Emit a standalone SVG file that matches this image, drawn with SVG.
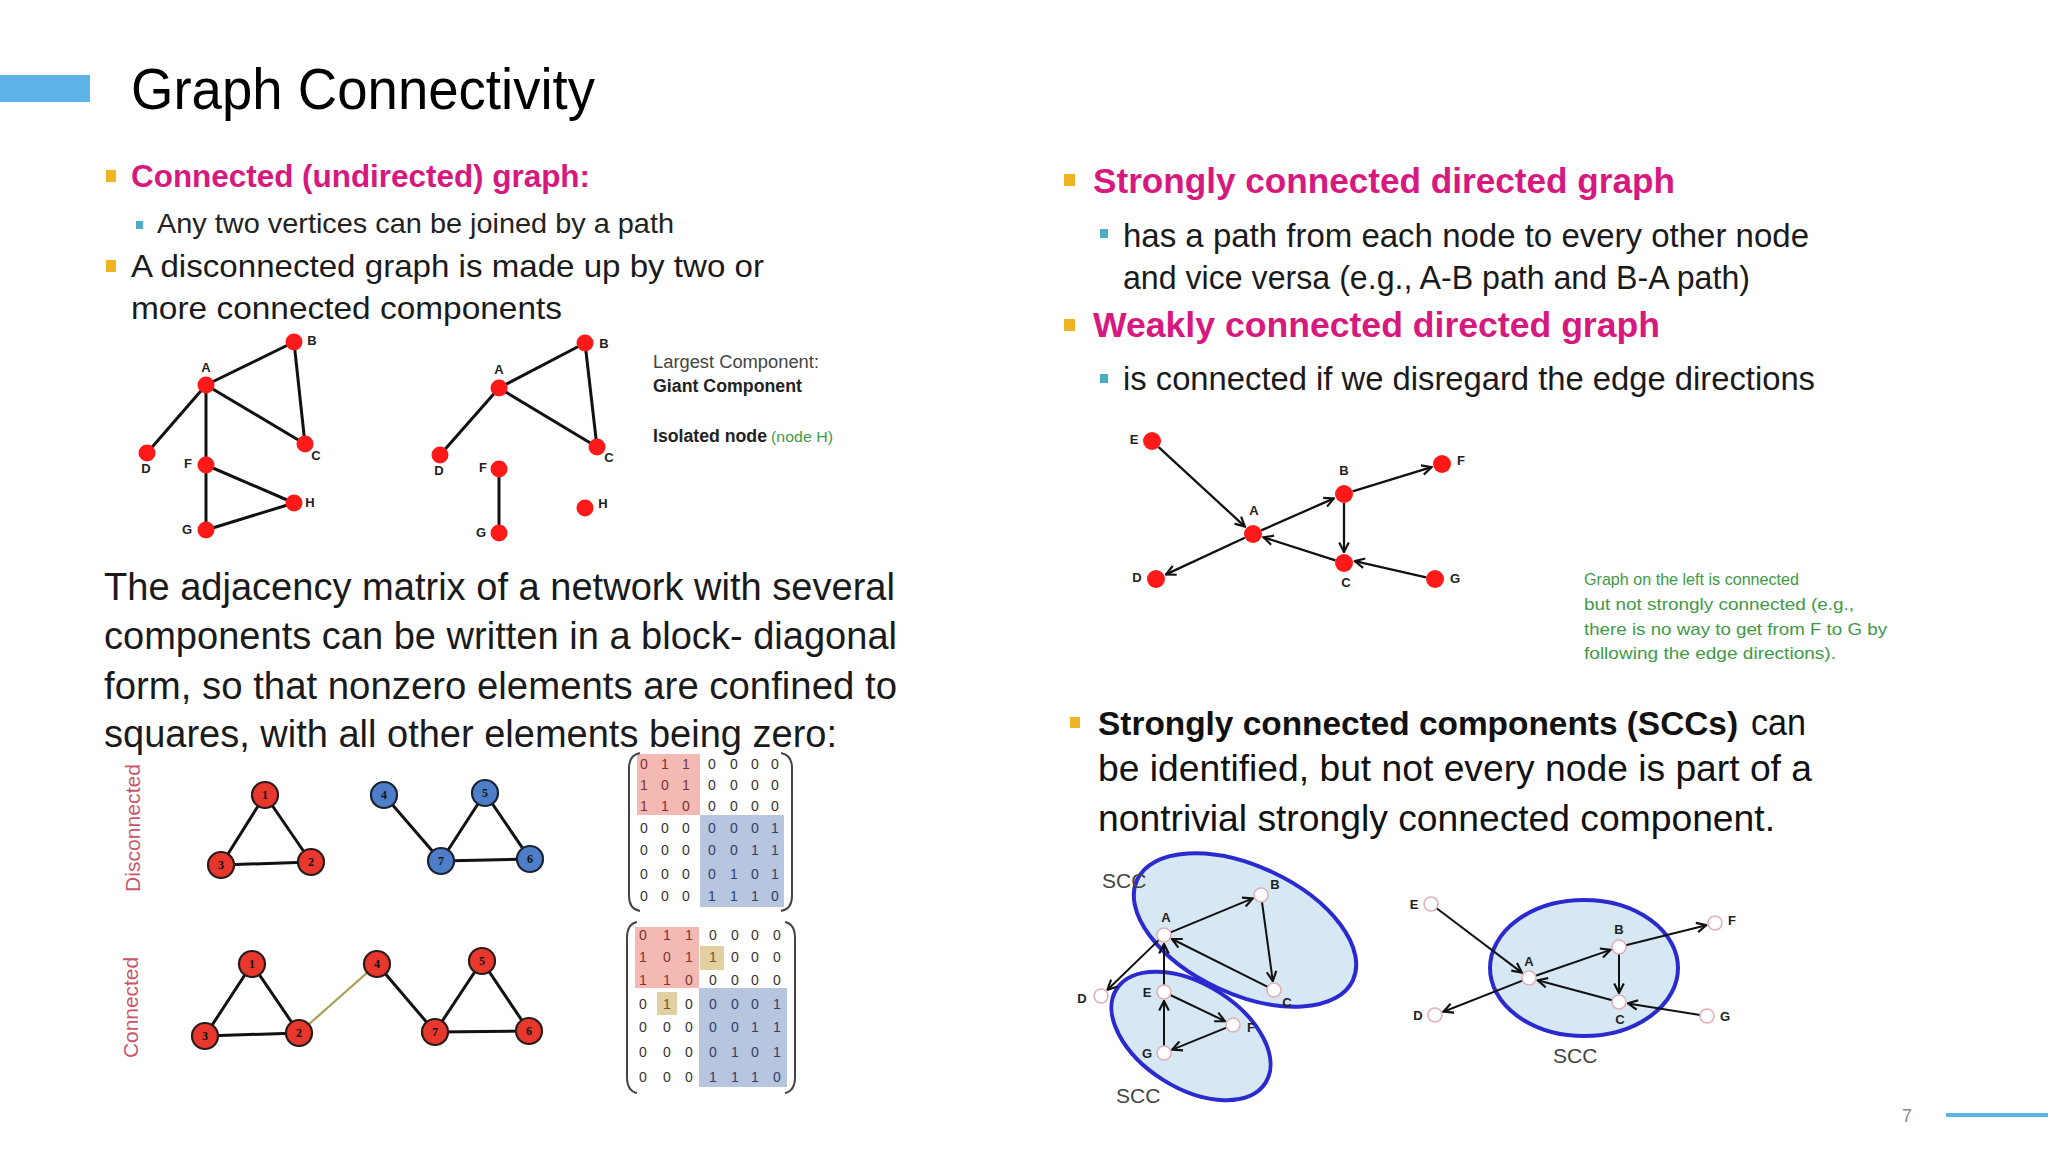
<svg xmlns="http://www.w3.org/2000/svg" width="2048" height="1152" viewBox="0 0 2048 1152">
<defs>
<style>
text{font-family:"Liberation Sans",Arial,sans-serif}
.title{font-size:58px;fill:#000}
.h{font-size:32px;font-weight:bold;fill:#D6187F}
.hr{font-size:35px;font-weight:bold;fill:#D6187F}
.m{font-size:32px;fill:#1a1a1a}
.s{font-size:28px;fill:#222}
.sr{font-size:33px;fill:#1a1a1a}
.p{font-size:38px;fill:#1a1a1a}
.scc{font-size:36px;fill:#111}
.sccb{font-size:33.4px;fill:#111;font-weight:bold}
.ob{fill:#F0B323}
.tb{fill:#4BACC6}
.edge{stroke:#111;stroke-width:3;fill:none}
.dedge{stroke:#111;stroke-width:2.3;fill:none;marker-end:url(#arr)}
.sedge{stroke:#111;stroke-width:2;fill:none;marker-end:url(#arr)}
.rn{fill:#FF1A1A}
.lbl{font-size:13px;font-weight:bold;fill:#222;text-anchor:middle}
.nr{fill:#E8372C;stroke:#2a1a1a;stroke-width:2.2}
.nb{fill:#4F7EC9;stroke:#1a2233;stroke-width:2.2}
.num{font-family:"Liberation Serif",serif;font-size:12px;font-weight:bold;fill:#111;text-anchor:middle}
.wn{fill:#fff;stroke:#E3AEB5;stroke-width:1.6}
.ell{fill:#D5E8F3}
.ells{fill:none;stroke:#2A2ACF;stroke-width:4}
.cap{font-size:21px;fill:#444}
.side{font-size:21px;fill:#C9566B}
.g{font-size:17px;fill:#3E9A45}
.small{font-size:18px;fill:#444}
.smallb{font-size:18px;fill:#222;font-weight:bold}
.mx{font-size:14px;fill:#333;text-anchor:middle}
.mr{font-size:14px;fill:#7a3535;text-anchor:middle}
.mbl{font-size:14px;fill:#2f3f66;text-anchor:middle}
.br{fill:none;stroke:#444;stroke-width:2}
</style>
<marker id="arr" viewBox="0 0 10 10" refX="9" refY="5" markerWidth="12" markerHeight="12" markerUnits="userSpaceOnUse" orient="auto"><path d="M1,1 L9,5 L1,9" fill="none" stroke="#111" stroke-width="1.8"/></marker>
</defs>
<rect x="0" y="0" width="2048" height="1152" fill="#fff"/>

<!-- header -->
<rect x="0" y="75" width="90" height="27" fill="#5DB2E8"/>
<text class="title" x="131" y="109" textLength="464" lengthAdjust="spacingAndGlyphs">Graph Connectivity</text>

<!-- left text -->
<rect class="ob" x="106" y="170" width="10" height="12"/>
<text class="h" x="131" y="187" textLength="459" lengthAdjust="spacingAndGlyphs">Connected (undirected) graph:</text>
<rect class="tb" x="136" y="221" width="7" height="8"/>
<text class="s" x="157" y="233" textLength="517" lengthAdjust="spacingAndGlyphs">Any two vertices can be joined by a path</text>
<rect class="ob" x="106" y="260" width="10" height="12"/>
<text class="m" x="131" y="277" textLength="633" lengthAdjust="spacingAndGlyphs">A disconnected graph is made up by two or</text>
<text class="m" x="131" y="319" textLength="431" lengthAdjust="spacingAndGlyphs">more connected components</text>

<text class="small" x="653" y="368" textLength="166" lengthAdjust="spacingAndGlyphs">Largest Component:</text>
<text class="smallb" x="653" y="392" textLength="149" lengthAdjust="spacingAndGlyphs">Giant Component</text>
<text class="smallb" x="653" y="442" textLength="114" lengthAdjust="spacingAndGlyphs">Isolated node</text>
<text x="771" y="442" font-size="15" fill="#3E9A45" textLength="62" lengthAdjust="spacingAndGlyphs">(node H)</text>

<text class="p" x="104" y="600" textLength="791" lengthAdjust="spacingAndGlyphs">The adjacency matrix of a network with several</text>
<text class="p" x="104" y="649" textLength="793" lengthAdjust="spacingAndGlyphs">components can be written in a block- diagonal</text>
<text class="p" x="104" y="699" textLength="793" lengthAdjust="spacingAndGlyphs">form, so that nonzero elements are confined to</text>
<text class="p" x="104" y="747" textLength="733" lengthAdjust="spacingAndGlyphs">squares, with all other elements being zero:</text>

<text class="side" transform="translate(140,892) rotate(-90)" textLength="128" lengthAdjust="spacingAndGlyphs">Disconnected</text>
<text class="side" transform="translate(138,1058) rotate(-90)" textLength="101" lengthAdjust="spacingAndGlyphs">Connected</text>

<!-- right text -->
<rect class="ob" x="1064" y="174" width="11" height="12"/>
<text class="hr" x="1093" y="193" textLength="582" lengthAdjust="spacingAndGlyphs">Strongly connected directed graph</text>
<rect class="tb" x="1100" y="229" width="8" height="9"/>
<text class="sr" x="1123" y="247" textLength="686" lengthAdjust="spacingAndGlyphs">has a path from each node to every other node</text>
<text class="sr" x="1123" y="289" textLength="627" lengthAdjust="spacingAndGlyphs">and vice versa (e.g., A-B path and B-A path)</text>
<rect class="ob" x="1064" y="319" width="11" height="12"/>
<text class="hr" x="1093" y="337" textLength="567" lengthAdjust="spacingAndGlyphs">Weakly connected directed graph</text>
<rect class="tb" x="1100" y="374" width="8" height="9"/>
<text class="sr" x="1123" y="390" textLength="692" lengthAdjust="spacingAndGlyphs">is connected if we disregard the edge directions</text>

<text class="g" x="1584" y="585" textLength="215" lengthAdjust="spacingAndGlyphs">Graph on the left is connected</text>
<text class="g" x="1584" y="610" textLength="270" lengthAdjust="spacingAndGlyphs">but not strongly connected (e.g.,</text>
<text class="g" x="1584" y="635" textLength="303" lengthAdjust="spacingAndGlyphs">there is no way to get from F to G by</text>
<text class="g" x="1584" y="659" textLength="252" lengthAdjust="spacingAndGlyphs">following the edge directions).</text>

<rect class="ob" x="1070" y="717" width="10" height="11"/>
<text class="sccb" x="1098" y="735">Strongly connected components (SCCs)</text>
<text class="scc" x="1751" y="735" textLength="55" lengthAdjust="spacingAndGlyphs">can</text>
<text class="scc" x="1098" y="781" textLength="714" lengthAdjust="spacingAndGlyphs">be identified, but not every node is part of a</text>
<text class="scc" x="1098" y="831" textLength="677" lengthAdjust="spacingAndGlyphs">nontrivial strongly connected component.</text>

<!-- footer -->
<text x="1902" y="1122" font-size="18" fill="#888">7</text>
<line x1="1946" y1="1115" x2="2048" y2="1115" stroke="#5BB4E5" stroke-width="4"/>

<!-- SCC ellipses -->
<g id="scc-ellipses">
<ellipse class="ell" cx="1191" cy="1036" rx="88" ry="52" transform="rotate(32 1191 1036)"/>
<ellipse class="ell" cx="1245" cy="930" rx="119" ry="64" transform="rotate(25 1245 930)"/>
<ellipse class="ells" cx="1191" cy="1036" rx="88" ry="52" transform="rotate(32 1191 1036)"/>
<ellipse class="ells" cx="1245" cy="930" rx="119" ry="64" transform="rotate(25 1245 930)"/>
<ellipse class="ell" cx="1584" cy="968" rx="94" ry="68"/>
<ellipse class="ells" cx="1584" cy="968" rx="94" ry="68"/>
</g>
<text class="cap" x="1102" y="888">SCC</text>
<text class="cap" x="1116" y="1103">SCC</text>
<text class="cap" x="1553" y="1063">SCC</text>

<!-- connectors -->
<g id="connectors">
<!-- graph 1 -->
<line class="edge" x1="206" y1="385" x2="294" y2="342"/>
<line class="edge" x1="206" y1="385" x2="305" y2="444"/>
<line class="edge" x1="294" y1="342" x2="305" y2="444"/>
<line class="edge" x1="206" y1="385" x2="147" y2="453"/>
<line class="edge" x1="206" y1="385" x2="206" y2="465"/>
<line class="edge" x1="206" y1="465" x2="294" y2="503"/>
<line class="edge" x1="206" y1="465" x2="206" y2="530"/>
<line class="edge" x1="206" y1="530" x2="294" y2="503"/>
<!-- graph 2 -->
<line class="edge" x1="499" y1="388" x2="585" y2="343"/>
<line class="edge" x1="499" y1="388" x2="597" y2="447"/>
<line class="edge" x1="585" y1="343" x2="597" y2="447"/>
<line class="edge" x1="499" y1="388" x2="440" y2="455"/>
<line class="edge" x1="499" y1="469" x2="499" y2="533"/>
<!-- disconnected numbered -->
<line class="edge" x1="265" y1="795" x2="311" y2="862"/>
<line class="edge" x1="265" y1="795" x2="221" y2="865"/>
<line class="edge" x1="221" y1="865" x2="311" y2="862"/>
<line class="edge" x1="384" y1="795" x2="441" y2="861"/>
<line class="edge" x1="441" y1="861" x2="485" y2="793"/>
<line class="edge" x1="485" y1="793" x2="530" y2="859"/>
<line class="edge" x1="441" y1="861" x2="530" y2="859"/>
<!-- connected numbered -->
<line class="edge" x1="252" y1="964" x2="299" y2="1033"/>
<line class="edge" x1="252" y1="964" x2="205" y2="1036"/>
<line class="edge" x1="205" y1="1036" x2="299" y2="1033"/>
<line x1="299" y1="1033" x2="377" y2="964" stroke="#A89F55" stroke-width="2.2"/>
<line class="edge" x1="377" y1="964" x2="435" y2="1032"/>
<line class="edge" x1="435" y1="1032" x2="482" y2="961"/>
<line class="edge" x1="482" y1="961" x2="529" y2="1031"/>
<line class="edge" x1="435" y1="1032" x2="529" y2="1031"/>
<!-- weakly directed -->
<line class="dedge" x1="1158.6" y1="447.1" x2="1244.9" y2="526.6"/>
<line class="dedge" x1="1261.2" y1="530.4" x2="1333.9" y2="498.4"/>
<line class="dedge" x1="1352.6" y1="491.4" x2="1431.5" y2="467.2"/>
<line class="dedge" x1="1344" y1="503" x2="1344" y2="552"/>
<line class="dedge" x1="1335.4" y1="560.3" x2="1263.5" y2="537.3"/>
<line class="dedge" x1="1244.8" y1="537.8" x2="1166" y2="574.4"/>
<line class="dedge" x1="1426.1" y1="577.4" x2="1354.8" y2="561.1"/>
<!-- SCC left -->
<line class="sedge" x1="1170.5" y1="932.3" x2="1252.7" y2="898.4"/>
<line class="sedge" x1="1262" y1="902" x2="1272.8" y2="981.1"/>
<line class="sedge" x1="1267.7" y1="986.9" x2="1172" y2="939"/>
<line class="sedge" x1="1159" y1="939.9" x2="1107.5" y2="989.7"/>
<line class="sedge" x1="1164" y1="985" x2="1164" y2="944"/>
<line class="sedge" x1="1170.3" y1="995" x2="1224.9" y2="1021.1"/>
<line class="sedge" x1="1226.5" y1="1027.6" x2="1172.3" y2="1049.6"/>
<line class="sedge" x1="1164" y1="1046" x2="1164" y2="1001"/>
<!-- SCC right -->
<line class="sedge" x1="1436.6" y1="908.2" x2="1521.8" y2="972.6"/>
<line class="sedge" x1="1535.6" y1="975.7" x2="1610.5" y2="949.9"/>
<line class="sedge" x1="1625.8" y1="945.3" x2="1706.3" y2="925.2"/>
<line class="sedge" x1="1619" y1="954" x2="1619" y2="993"/>
<line class="sedge" x1="1612.2" y1="1000.2" x2="1537.7" y2="980.3"/>
<line class="sedge" x1="1522.5" y1="980.6" x2="1443.4" y2="1011.7"/>
<line class="sedge" x1="1700.1" y1="1014.9" x2="1627.9" y2="1003.4"/>
</g>

<!-- graph 1 nodes -->
<g id="g1-A"><circle class="rn" cx="206" cy="385" r="8.5"/><text class="lbl" x="206" y="372">A</text></g>
<g id="g1-B"><circle class="rn" cx="294" cy="342" r="8.5"/><text class="lbl" x="312" y="345">B</text></g>
<g id="g1-C"><circle class="rn" cx="305" cy="444" r="8.5"/><text class="lbl" x="316" y="460">C</text></g>
<g id="g1-D"><circle class="rn" cx="147" cy="453" r="8.5"/><text class="lbl" x="146" y="473">D</text></g>
<g id="g1-F"><circle class="rn" cx="206" cy="465" r="8.5"/><text class="lbl" x="188" y="468">F</text></g>
<g id="g1-G"><circle class="rn" cx="206" cy="530" r="8.5"/><text class="lbl" x="187" y="534">G</text></g>
<g id="g1-H"><circle class="rn" cx="294" cy="503" r="8.5"/><text class="lbl" x="310" y="507">H</text></g>
<!-- graph 2 nodes -->
<g id="g2-A"><circle class="rn" cx="499" cy="388" r="8.5"/><text class="lbl" x="499" y="374">A</text></g>
<g id="g2-B"><circle class="rn" cx="585" cy="343" r="8.5"/><text class="lbl" x="604" y="348">B</text></g>
<g id="g2-C"><circle class="rn" cx="597" cy="447" r="8.5"/><text class="lbl" x="609" y="462">C</text></g>
<g id="g2-D"><circle class="rn" cx="440" cy="455" r="8.5"/><text class="lbl" x="439" y="475">D</text></g>
<g id="g2-F"><circle class="rn" cx="499" cy="469" r="8.5"/><text class="lbl" x="483" y="472">F</text></g>
<g id="g2-G"><circle class="rn" cx="499" cy="533" r="8.5"/><text class="lbl" x="481" y="537">G</text></g>
<g id="g2-H"><circle class="rn" cx="585" cy="508" r="8.5"/><text class="lbl" x="603" y="508">H</text></g>

<!-- disconnected numbered nodes -->
<g id="d-1"><circle class="nr" cx="265" cy="795" r="13"/><text class="num" x="265" y="799">1</text></g>
<g id="d-2"><circle class="nr" cx="311" cy="862" r="13"/><text class="num" x="311" y="866">2</text></g>
<g id="d-3"><circle class="nr" cx="221" cy="865" r="13"/><text class="num" x="221" y="869">3</text></g>
<g id="d-4"><circle class="nb" cx="384" cy="795" r="13"/><text class="num" x="384" y="799">4</text></g>
<g id="d-5"><circle class="nb" cx="485" cy="793" r="13"/><text class="num" x="485" y="797">5</text></g>
<g id="d-7"><circle class="nb" cx="441" cy="861" r="13"/><text class="num" x="441" y="865">7</text></g>
<g id="d-6"><circle class="nb" cx="530" cy="859" r="13"/><text class="num" x="530" y="863">6</text></g>
<!-- connected numbered nodes -->
<g id="c-1"><circle class="nr" cx="252" cy="964" r="13"/><text class="num" x="252" y="968">1</text></g>
<g id="c-2"><circle class="nr" cx="299" cy="1033" r="13"/><text class="num" x="299" y="1037">2</text></g>
<g id="c-3"><circle class="nr" cx="205" cy="1036" r="13"/><text class="num" x="205" y="1040">3</text></g>
<g id="c-4"><circle class="nr" cx="377" cy="964" r="13"/><text class="num" x="377" y="968">4</text></g>
<g id="c-5"><circle class="nr" cx="482" cy="961" r="13"/><text class="num" x="482" y="965">5</text></g>
<g id="c-7"><circle class="nr" cx="435" cy="1032" r="13"/><text class="num" x="435" y="1036">7</text></g>
<g id="c-6"><circle class="nr" cx="529" cy="1031" r="13"/><text class="num" x="529" y="1035">6</text></g>

<!-- matrix top -->
<g id="matrix-disconnected">
<rect x="637" y="754" width="63" height="61" fill="#F4B9B2"/>
<rect x="700" y="815" width="84" height="92" fill="#B7C5DF"/>
<path class="br" d="M640,753 Q629,755 629,768 L629,896 Q629,909 640,911"/>
<path class="br" d="M781,753 Q792,755 792,768 L792,896 Q792,909 781,911"/>
<g class="mr">
<text x="644" y="769">0</text><text x="665" y="769">1</text><text x="686" y="769">1</text>
<text x="644" y="790">1</text><text x="665" y="790">0</text><text x="686" y="790">1</text>
<text x="644" y="811">1</text><text x="665" y="811">1</text><text x="686" y="811">0</text>
</g>
<g class="mx">
<text x="712" y="769">0</text><text x="734" y="769">0</text><text x="755" y="769">0</text><text x="775" y="769">0</text>
<text x="712" y="790">0</text><text x="734" y="790">0</text><text x="755" y="790">0</text><text x="775" y="790">0</text>
<text x="712" y="811">0</text><text x="734" y="811">0</text><text x="755" y="811">0</text><text x="775" y="811">0</text>
<text x="644" y="833">0</text><text x="665" y="833">0</text><text x="686" y="833">0</text>
<text x="644" y="855">0</text><text x="665" y="855">0</text><text x="686" y="855">0</text>
<text x="644" y="879">0</text><text x="665" y="879">0</text><text x="686" y="879">0</text>
<text x="644" y="901">0</text><text x="665" y="901">0</text><text x="686" y="901">0</text>
</g>
<g class="mbl">
<text x="712" y="833">0</text><text x="734" y="833">0</text><text x="755" y="833">0</text><text x="775" y="833">1</text>
<text x="712" y="855">0</text><text x="734" y="855">0</text><text x="755" y="855">1</text><text x="775" y="855">1</text>
<text x="712" y="879">0</text><text x="734" y="879">1</text><text x="755" y="879">0</text><text x="775" y="879">1</text>
<text x="712" y="901">1</text><text x="734" y="901">1</text><text x="755" y="901">1</text><text x="775" y="901">0</text>
</g>
</g>

<!-- matrix bottom -->
<g id="matrix-connected">
<rect x="635" y="927" width="64" height="61" fill="#F4B9B2"/>
<rect x="699" y="988" width="88" height="99" fill="#B7C5DF"/>
<rect x="700" y="946" width="24" height="24" fill="#E2CFA2"/>
<rect x="657" y="992" width="20" height="23" fill="#E2CFA2"/>
<path class="br" d="M637,922 Q627,924 627,938 L627,1077 Q627,1091 637,1093"/>
<path class="br" d="M785,922 Q795,924 795,938 L795,1077 Q795,1091 785,1093"/>
<g class="mr">
<text x="643" y="940">0</text><text x="667" y="940">1</text><text x="689" y="940">1</text>
<text x="643" y="962">1</text><text x="667" y="962">0</text><text x="689" y="962">1</text>
<text x="643" y="985">1</text><text x="667" y="985">1</text><text x="689" y="985">0</text>
</g>
<g class="mx">
<text x="713" y="940">0</text><text x="735" y="940">0</text><text x="755" y="940">0</text><text x="777" y="940">0</text>
<text x="713" y="962" fill="#6b5a2a">1</text><text x="735" y="962">0</text><text x="755" y="962">0</text><text x="777" y="962">0</text>
<text x="713" y="985">0</text><text x="735" y="985">0</text><text x="755" y="985">0</text><text x="777" y="985">0</text>
<text x="643" y="1009">0</text><text x="667" y="1009" fill="#6b5a2a">1</text><text x="689" y="1009">0</text>
<text x="643" y="1032">0</text><text x="667" y="1032">0</text><text x="689" y="1032">0</text>
<text x="643" y="1057">0</text><text x="667" y="1057">0</text><text x="689" y="1057">0</text>
<text x="643" y="1082">0</text><text x="667" y="1082">0</text><text x="689" y="1082">0</text>
</g>
<g class="mbl">
<text x="713" y="1009">0</text><text x="735" y="1009">0</text><text x="755" y="1009">0</text><text x="777" y="1009">1</text>
<text x="713" y="1032">0</text><text x="735" y="1032">0</text><text x="755" y="1032">1</text><text x="777" y="1032">1</text>
<text x="713" y="1057">0</text><text x="735" y="1057">1</text><text x="755" y="1057">0</text><text x="777" y="1057">1</text>
<text x="713" y="1082">1</text><text x="735" y="1082">1</text><text x="755" y="1082">1</text><text x="777" y="1082">0</text>
</g>
</g>

<!-- weakly directed graph nodes -->
<g id="w-E"><circle class="rn" cx="1152" cy="441" r="9"/><text class="lbl" x="1134" y="444">E</text></g>
<g id="w-A"><circle class="rn" cx="1253" cy="534" r="9"/><text class="lbl" x="1254" y="515">A</text></g>
<g id="w-B"><circle class="rn" cx="1344" cy="494" r="9"/><text class="lbl" x="1344" y="475">B</text></g>
<g id="w-F"><circle class="rn" cx="1442" cy="464" r="9"/><text class="lbl" x="1461" y="465">F</text></g>
<g id="w-D"><circle class="rn" cx="1156" cy="579" r="9"/><text class="lbl" x="1137" y="582">D</text></g>
<g id="w-C"><circle class="rn" cx="1344" cy="563" r="9"/><text class="lbl" x="1346" y="587">C</text></g>
<g id="w-G"><circle class="rn" cx="1435" cy="579" r="9"/><text class="lbl" x="1455" y="583">G</text></g>

<!-- SCC left nodes -->
<g id="s1-A"><circle class="wn" cx="1164" cy="935" r="7"/><text class="lbl" x="1166" y="922">A</text></g>
<g id="s1-B"><circle class="wn" cx="1261" cy="895" r="7"/><text class="lbl" x="1275" y="889">B</text></g>
<g id="s1-C"><circle class="wn" cx="1274" cy="990" r="7"/><text class="lbl" x="1287" y="1007">C</text></g>
<g id="s1-D"><circle class="wn" cx="1101" cy="996" r="7"/><text class="lbl" x="1082" y="1003">D</text></g>
<g id="s1-E"><circle class="wn" cx="1164" cy="992" r="7"/><text class="lbl" x="1147" y="997">E</text></g>
<g id="s1-F"><circle class="wn" cx="1233" cy="1025" r="7"/><text class="lbl" x="1251" y="1032">F</text></g>
<g id="s1-G"><circle class="wn" cx="1164" cy="1053" r="7"/><text class="lbl" x="1147" y="1058">G</text></g>

<!-- SCC right nodes -->
<g id="s2-E"><circle class="wn" cx="1431" cy="904" r="7"/><text class="lbl" x="1414" y="909">E</text></g>
<g id="s2-A"><circle class="wn" cx="1529" cy="978" r="7"/><text class="lbl" x="1529" y="966">A</text></g>
<g id="s2-B"><circle class="wn" cx="1619" cy="947" r="7"/><text class="lbl" x="1619" y="934">B</text></g>
<g id="s2-F"><circle class="wn" cx="1715" cy="923" r="7"/><text class="lbl" x="1732" y="925">F</text></g>
<g id="s2-D"><circle class="wn" cx="1435" cy="1015" r="7"/><text class="lbl" x="1418" y="1020">D</text></g>
<g id="s2-C"><circle class="wn" cx="1619" cy="1002" r="7"/><text class="lbl" x="1620" y="1024">C</text></g>
<g id="s2-G"><circle class="wn" cx="1707" cy="1016" r="7"/><text class="lbl" x="1725" y="1021">G</text></g>
</svg>
